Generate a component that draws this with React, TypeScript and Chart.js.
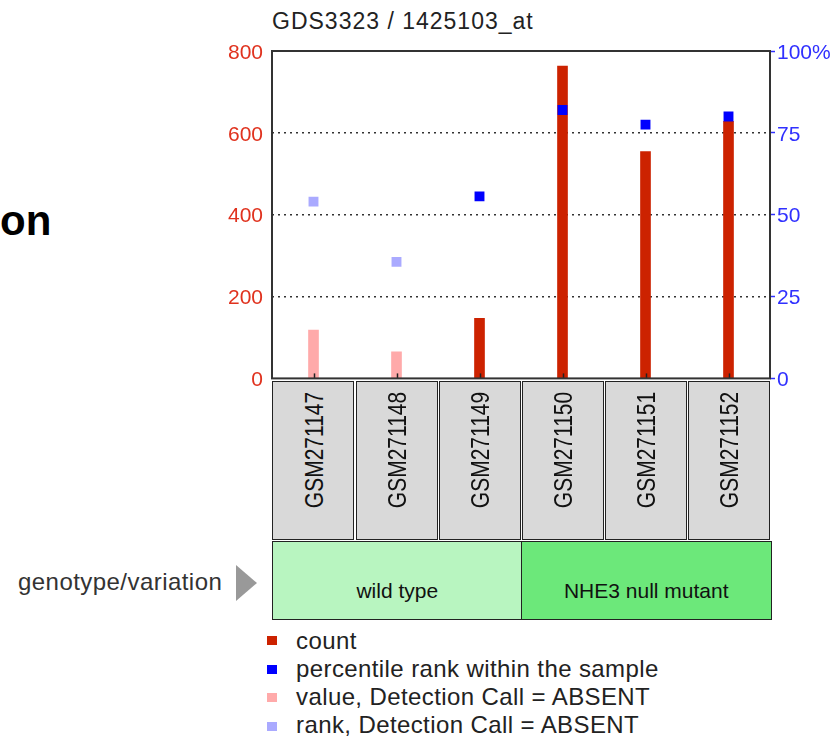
import React, { useEffect, useRef } from 'react';
import { Chart, registerables } from 'chart.js';

Chart.register(...registerables);

const chartTitle = 'GDS3323 / 1425103_at';
const samples = ['GSM271147', 'GSM271148', 'GSM271149', 'GSM271150', 'GSM271151', 'GSM271152'];
const counts = [118, 65, 147, 763, 554, 628];
const percentiles = [54, 35.6, 55.6, 82, 77.5, 80];
const absentCall = [true, true, false, false, false, false];
const groupNames = ['wild type', 'NHE3 null mutant'];
const groupSizes = [3, 3];
const groupColors = ['#b8f5c0', '#6ce87a'];
const legendLabels = [
  'count',
  'percentile rank within the sample',
  'value, Detection Call = ABSENT',
  'rank, Detection Call = ABSENT',
];
const legendColors = ['#cc2200', '#0000ff', '#ffaaaa', '#aaaaff'];

const FONT = '"Liberation Sans", Arial, Helvetica, sans-serif';
const RED = '#e0321e';
const BLUE = '#3030ff';
const BAR_RED = '#cc2200';
const BAR_PINK = '#ffaaaa';
const PT_BLUE = '#0000ff';
const PT_LIGHT = '#aaaaff';

// layout constants (page pixels)
const PLOT_L = 272;
const PLOT_R = 770;
const PLOT_T = 51;
const PLOT_B = 380;
const W = 831;
const CANVAS_H = 400;

const framePlugin = {
  id: 'frameAndTicks',
  afterDatasetsDraw(chart: any) {
    const { ctx, chartArea: a, scales } = chart;
    const x = scales.x;
    ctx.save();
    ctx.strokeStyle = '#222';
    ctx.lineWidth = 1.5;
    samples.forEach((_, i) => {
      const px = Math.round(x.getPixelForValue(i)) + 0.5;
      ctx.beginPath();
      ctx.moveTo(px, a.bottom);
      ctx.lineTo(px, a.bottom - 5);
      ctx.stroke();
    });
    ctx.strokeStyle = '#333';
    ctx.lineWidth = 2;
    ctx.strokeRect(a.left, a.top, a.right - a.left, a.bottom - a.top);
    ctx.restore();
  },
};

function ChartCanvas() {
  const ref = useRef<HTMLCanvasElement | null>(null);
  useEffect(() => {
    if (!ref.current) return;
    const chart = new Chart(ref.current, {
      type: 'bar',
      data: {
        labels: samples,
        datasets: [
          {
            type: 'bar',
            label: 'count',
            data: counts,
            backgroundColor: absentCall.map((a) => (a ? BAR_PINK : BAR_RED)),
            borderWidth: 0,
            barThickness: 10,
            yAxisID: 'y',
            order: 2,
          } as any,
          {
            type: 'line',
            label: 'percentile rank within the sample',
            data: percentiles,
            yAxisID: 'y1',
            showLine: false,
            pointStyle: 'rect',
            pointRadius: 7,
            pointHoverRadius: 7,
            pointBorderWidth: 0,
            borderWidth: 0,
            pointBackgroundColor: absentCall.map((a) => (a ? PT_LIGHT : PT_BLUE)),
            pointBorderColor: 'rgba(0,0,0,0)',
            order: 1,
          } as any,
        ],
      },
      options: {
        responsive: false,
        animation: false,
        layout: { padding: { top: PLOT_T, bottom: CANVAS_H - PLOT_B, left: 0, right: 0 } },
        plugins: {
          legend: { display: false },
          tooltip: { enabled: false },
          title: { display: false },
        },
        scales: {
          x: { display: false, offset: true, grid: { offset: true } },
          y: {
            position: 'left',
            min: 0,
            max: 800,
            ticks: {
              stepSize: 200,
              color: RED,
              font: { family: FONT, size: 21 },
              padding: 9,
              labelOffset: 2,
            },
            grid: {
              drawTicks: false,
              lineWidth: 1.5,
              color: (c: any) =>
                c.tick && (c.tick.value === 0 || c.tick.value === 800) ? 'rgba(0,0,0,0)' : '#333',
            },
            border: { display: false, dash: [2, 4] },
            afterFit: (s: any) => {
              s.width = PLOT_L;
            },
          },
          y1: {
            position: 'right',
            min: 0,
            max: 100,
            ticks: {
              stepSize: 25,
              color: BLUE,
              font: { family: FONT, size: 21 },
              padding: 2,
              labelOffset: 2,
              callback: (v: any) => (v === 100 ? '100%' : String(v)),
            },
            grid: {
              drawOnChartArea: false,
              drawTicks: true,
              tickLength: 5,
              tickColor: BLUE,
              tickWidth: 1.5,
            },
            border: { display: false },
            afterFit: (s: any) => {
              s.width = W - PLOT_R;
            },
          },
        },
      } as any,
      plugins: [framePlugin],
    });
    return () => chart.destroy();
  }, []);
  return (
    <canvas
      ref={ref}
      width={W}
      height={CANVAS_H}
      style={{ position: 'absolute', left: 0, top: 0, width: W, height: CANVAS_H }}
    />
  );
}

export default function App() {
  const step = (PLOT_R - PLOT_L) / samples.length;
  let acc = 0;
  const groupBoxes = groupNames.map((g, i) => {
    const left = PLOT_L + acc * step;
    acc += groupSizes[i];
    const right = PLOT_L + acc * step;
    return { name: g, left, right, color: groupColors[i] };
  });
  return (
    <div
      style={{
        position: 'absolute',
        left: 0,
        top: 0,
        width: W,
        height: 742,
        background: '#fff',
        fontFamily: FONT,
        overflow: 'hidden',
      }}
    >
      <div
        style={{
          position: 'absolute',
          left: PLOT_L,
          top: 9.5,
          fontSize: 23,
          lineHeight: '23px',
          letterSpacing: 1,
          color: '#222',
          whiteSpace: 'nowrap',
        }}
      >
        {chartTitle}
      </div>
      <div
        style={{
          position: 'absolute',
          left: 0,
          top: 200,
          fontSize: 42,
          lineHeight: '42px',
          fontWeight: 'bold',
          color: '#000',
          whiteSpace: 'nowrap',
        }}
      >
        on
      </div>
      <ChartCanvas />
      {samples.map((s, i) => {
        const left = PLOT_L + i * step;
        return (
          <div key={s}>
            <div
              style={{
                position: 'absolute',
                left: left + (i === 0 ? 0 : 0.5),
                top: 381,
                width: step - 1,
                height: 159,
                boxSizing: 'border-box',
                border: '1.5px solid #222',
                background: '#d9d9d9',
              }}
            />
            <div
              style={{
                position: 'absolute',
                left: left + step / 2,
                top: 450,
                fontSize: 21,
                lineHeight: '21px',
                color: '#111',
                whiteSpace: 'nowrap',
                transform: 'translate(-50%, -50%) rotate(-90deg) scale(1, 1.25)',
              }}
            >
              {s}
            </div>
          </div>
        );
      })}
      {groupBoxes.map((g) => (
        <div
          key={g.name}
          style={{
            position: 'absolute',
            left: g.left,
            top: 541,
            width: g.right - g.left + 1.5,
            height: 79,
            boxSizing: 'border-box',
            border: '1.5px solid #222',
            background: g.color,
          }}
        >
          <div
            style={{
              position: 'absolute',
              left: 0,
              right: 0,
              top: 38,
              textAlign: 'center',
              fontSize: 21,
              lineHeight: '21px',
              color: '#111',
              whiteSpace: 'nowrap',
            }}
          >
            {g.name}
          </div>
        </div>
      ))}
      <div
        style={{
          position: 'absolute',
          left: 18,
          top: 569.7,
          fontSize: 24,
          lineHeight: '24px',
          letterSpacing: 0.45,
          color: '#333',
          whiteSpace: 'nowrap',
        }}
      >
        genotype/variation
      </div>
      <div
        style={{
          position: 'absolute',
          left: 236,
          top: 565,
          width: 0,
          height: 0,
          borderTop: '18px solid transparent',
          borderBottom: '18px solid transparent',
          borderLeft: '21px solid #999',
        }}
      />
      {legendLabels.map((l, i) => {
        const baseline = 649 + 28 * i;
        return (
          <div key={l}>
            <div
              style={{
                position: 'absolute',
                left: 267,
                top: baseline - 13 + i * 0.6,
                width: 10,
                height: 9,
                background: legendColors[i],
              }}
            />
            <div
              style={{
                position: 'absolute',
                left: 296,
                top: baseline - 20.3,
                fontSize: 24,
                lineHeight: '24px',
                letterSpacing: 0.4,
                color: '#222',
                whiteSpace: 'nowrap',
              }}
            >
              {l}
            </div>
          </div>
        );
      })}
    </div>
  );
}
